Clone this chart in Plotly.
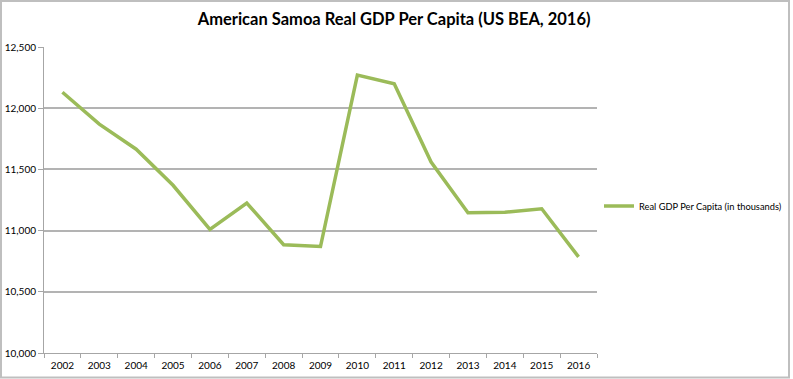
import plotly.graph_objects as go

years = ["2002", "2003", "2004", "2005", "2006", "2007", "2008", "2009",
         "2010", "2011", "2012", "2013", "2014", "2015", "2016"]
gdp_per_capita = [12130, 11870, 11665, 11370, 11010, 11225, 10885, 10870,
                  12270, 12200, 11560, 11145, 11150, 11178, 10785]
series_name = "Real GDP Per Capita (in thousands)"
y_ticks = [10000, 10500, 11000, 11500, 12000, 12500]
y_tick_labels = ["10,000", "10,500", "11,000", "11,500", "12,000", "12,500"]

W, H = 793, 379
L, R, T, B = 44, 196, 47, 26
pw, ph = W - L - R, H - T - B

fig = go.Figure()
fig.add_trace(go.Scatter(
    x=years, y=gdp_per_capita, mode="lines", name=series_name,
    line=dict(color="#9bbb59", width=3.5),
))

font_family = "Lato, Carlito, Calibri, 'Open Sans', sans-serif"

fig.update_layout(
    width=W, height=H,
    margin=dict(l=L, r=R, t=T, b=B, autoexpand=False),
    paper_bgcolor="white", plot_bgcolor="white",
    title=dict(text="<b>American Samoa Real GDP Per Capita (US BEA, 2016)</b>",
               x=0.497, xanchor="center", xref="container", y=1 - 19 / H, yanchor="middle",
               font=dict(family=font_family, size=16.5, color="black")),
    showlegend=True,
    legend=dict(x=(599 - L) / pw, y=(H - B - 206) / ph, xanchor="left", yanchor="middle",
                font=dict(family=font_family, size=9.3, color="black"),
                bgcolor="rgba(0,0,0,0)", itemwidth=30),
    font=dict(family=font_family, size=10, color="black"),
    xaxis=dict(type="category", tickson="boundaries", ticks="outside", ticklen=4,
               tickcolor="#a6a6a6", showline=True, linecolor="#a6a6a6", linewidth=1,
               showgrid=False, tickfont=dict(size=10), range=[-0.5, 14.5],
               automargin=False, ticklabelstandoff=3),
    yaxis=dict(range=[10000, 12500], tickvals=y_ticks, ticktext=y_tick_labels,
               ticks="outside", ticklen=5, tickcolor="#a6a6a6",
               showline=True, linecolor="#a6a6a6", linewidth=1,
               showgrid=True, gridcolor="#b3b3b3", gridwidth=1.5,
               zeroline=False, tickfont=dict(size=10), automargin=False),
    shapes=[dict(type="rect", xref="paper", yref="paper",
                 x0=(1 - L) / pw, x1=(789 - L) / pw,
                 y0=(H - B - 377.5) / ph, y1=(H - B - 1) / ph,
                 line=dict(color="#bfbfbf", width=2), fillcolor="rgba(0,0,0,0)",
                 layer="below")],
)

fig.write_html("out.html", config={"displayModeBar": False},
               post_script="document.body.style.margin='0px';document.body.style.overflow='hidden';")
